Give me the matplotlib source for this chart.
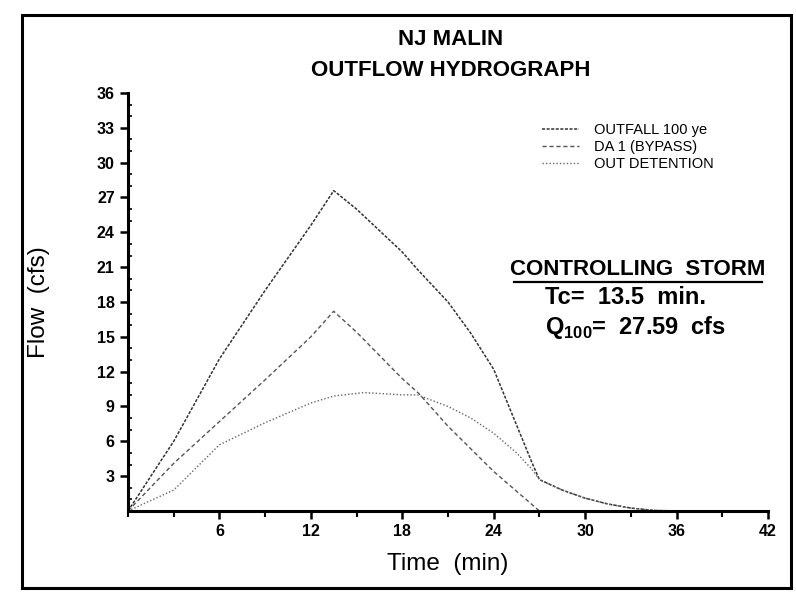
import matplotlib
matplotlib.use('Agg')
import matplotlib.pyplot as plt
from matplotlib.patches import Rectangle
from matplotlib.ticker import MultipleLocator

# ─── Data ─────────────────────────────────────────────────────────────────────
time_min = [0, 3, 6, 9, 12, 13.5, 15, 18, 19, 21, 22.5, 24, 25.5, 26.5, 27,
            28.5, 30, 31.5, 33, 34.5, 36]
outfall = [0, 6.0, 13.1, 19.0, 24.6, 27.59, 26.0, 22.3, 20.8, 18.0, 15.3, 12.2,
           7.4, 4.2, 2.7, 1.8, 1.1, 0.6, 0.25, 0.05, 0]
bypass_t = [0, 3, 6, 9, 12, 13.5, 15, 18, 19.1, 21, 24, 27]
bypass = [0, 4.1, 7.7, 11.3, 15.0, 17.2, 15.4, 11.4, 10.1, 7.3, 3.4, 0]
det_t = [0, 3, 6, 9, 12, 13.5, 15.5, 18, 19, 21, 22.5, 24, 25.5, 26.5, 27,
         28.5, 30, 31.5, 33, 34.5, 36]
detention = [0, 1.8, 5.7, 7.6, 9.3, 9.9, 10.2, 10.0, 10.0, 9.0, 8.0, 6.7, 5.0,
             3.6, 2.7, 1.8, 1.1, 0.6, 0.25, 0.05, 0]

series_labels = ['OUTFALL 100 ye', 'DA 1 (BYPASS)', 'OUT DETENTION']
x_ticks = [6, 12, 18, 24, 30, 36, 42]
y_ticks = [3, 6, 9, 12, 15, 18, 21, 24, 27, 30, 33, 36]

FONT = ['Liberation Sans Narrow', 'Liberation Sans', 'DejaVu Sans']

fig = plt.figure(figsize=(7.96, 6.01), dpi=100)
ax = fig.add_axes([0.1608, 0.1498, 0.8040, 0.6955])

# outer frame around the whole sheet
fig.patches.append(Rectangle((22 / 796, 1 - 588 / 601), (791 - 22) / 796,
                             (588 - 15) / 601, transform=fig.transFigure,
                             fill=False, edgecolor='black', linewidth=2.2))

# ─── Hydrographs ──────────────────────────────────────────────────────────────
ax.plot(time_min, outfall, color='#333333', lw=1.1, ls=(0, (2, 1)),
        label=series_labels[0])
ax.plot(bypass_t, bypass, color='#555555', lw=1.0, ls=(0, (3, 2)),
        label=series_labels[1])
ax.plot(det_t, detention, color='#666666', lw=1.0, ls=(0, (1, 1.5)),
        label=series_labels[2])

ax.set_xlim(0, 42)
ax.set_ylim(0, 36)
for s in ['top', 'right']:
    ax.spines[s].set_visible(False)
for s in ['left', 'bottom']:
    ax.spines[s].set_linewidth(2.2)

ax.set_xticks(x_ticks)
ax.set_yticks(y_ticks)
ax.xaxis.set_minor_locator(MultipleLocator(3))
ax.yaxis.set_minor_locator(MultipleLocator(1))
ax.tick_params(axis='both', which='major', direction='out', length=6, width=1.8)
ax.tick_params(axis='x', which='minor', direction='out', length=4, width=1.5)
ax.tick_params(axis='y', which='minor', direction='in', length=3, width=1.2)
for lbl in ax.get_xticklabels() + ax.get_yticklabels():
    lbl.set_fontfamily(FONT)
    lbl.set_fontweight('bold')
    lbl.set_fontsize(11.5)

ax.set_xlabel('Time  (min)', fontsize=17.5, family=FONT, labelpad=10)
ax.set_ylabel('Flow  (cfs)', fontsize=17.5, family=FONT, labelpad=34)

fig.text(0.566, 0.935, 'NJ MALIN', ha='center', va='center', fontsize=16,
         fontweight='bold', family=FONT)
fig.text(0.566, 0.883, 'OUTFLOW HYDROGRAPH', ha='center', va='center',
         fontsize=16, fontweight='bold', family=FONT)

leg = ax.legend(loc='upper right', bbox_to_anchor=(0.935, 0.96), frameon=False,
                prop={'family': FONT, 'size': 10.5}, handlelength=2.5,
                labelspacing=0.2, handletextpad=1.0)

ax.text(0.797, 0.577, 'CONTROLLING  STORM', transform=ax.transAxes,
        ha='center', va='center', fontsize=16, fontweight='bold', family=FONT)
ax.plot([0.603, 0.99], [0.547, 0.547], transform=ax.transAxes,
        color='black', lw=1.6, clip_on=False)
ax.text(0.651, 0.51, 'Tc=  13.5  min.', transform=ax.transAxes,
        ha='left', va='center', fontsize=17, fontweight='bold', family=FONT)
ax.text(0.651, 0.44, r'Q$_{\mathregular{100}}$=  27.59  cfs', transform=ax.transAxes,
        ha='left', va='center', fontsize=17, fontweight='bold', family=FONT)

fig.savefig('out.png', dpi=100)
